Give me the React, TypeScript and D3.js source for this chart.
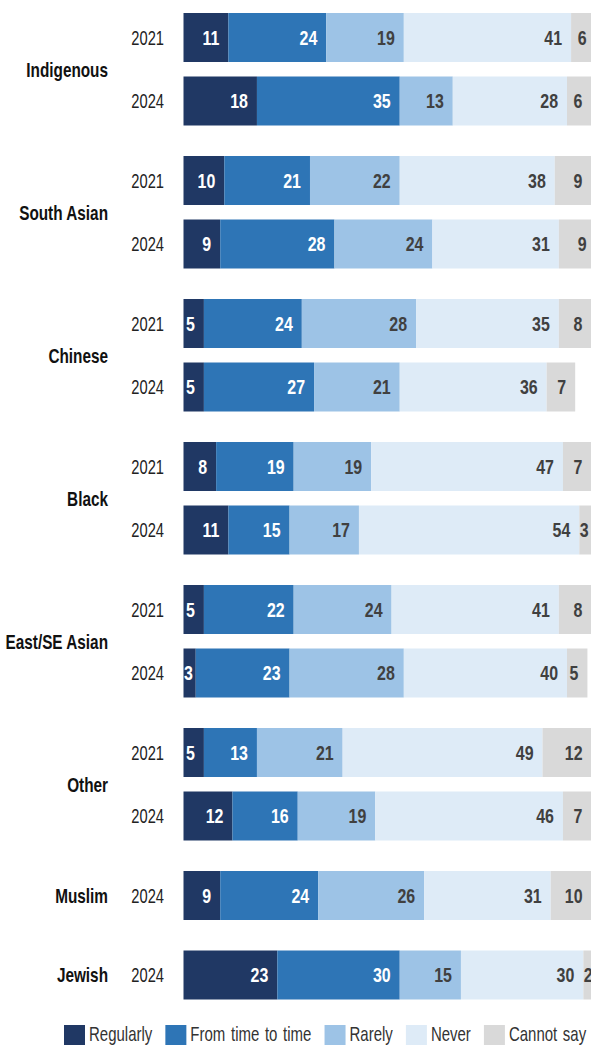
import React, { useMemo } from "react";
import * as d3 from "d3";

const groups = ["Indigenous", "South Asian", "Chinese", "Black", "East/SE Asian", "Other", "Muslim", "Jewish"];
const rowGroup = [0, 0, 1, 1, 2, 2, 3, 3, 4, 4, 5, 5, 6, 7];
const rowYear = ["2021", "2024", "2021", "2024", "2021", "2024", "2021", "2024", "2021", "2024", "2021", "2024", "2024", "2024"];
const regularly = [11, 18, 10, 9, 5, 5, 8, 11, 5, 3, 5, 12, 9, 23];
const fromTime = [24, 35, 21, 28, 24, 27, 19, 15, 22, 23, 13, 16, 24, 30];
const rarely = [19, 13, 22, 24, 28, 21, 19, 17, 24, 28, 21, 19, 26, 15];
const never = [41, 28, 38, 31, 35, 36, 47, 54, 41, 40, 49, 46, 31, 30];
const cannotSay = [6, 6, 9, 9, 8, 7, 7, 3, 8, 5, 12, 7, 10, 2];
const seriesNames = ["Regularly", "From time to time", "Rarely", "Never", "Cannot say"];
const seriesColors = ["#203864", "#2e75b6", "#9dc3e6", "#deebf7", "#d9d9d9"];
const labelColors = ["#ffffff", "#ffffff", "#404040", "#404040", "#404040"];

const FONT = "'Liberation Sans', Arial, sans-serif";

function measure(text: string, font: string, wordSpacing = 0) {
  const c = document.createElement("canvas").getContext("2d");
  if (!c) return text.length * 8;
  c.font = font;
  const spaces = (text.match(/ /g) || []).length;
  return c.measureText(text).width + spaces * wordSpacing;
}

type TProps = {
  x: number;
  y: number;
  sx: number;
  anchor?: string;
  size: number;
  weight?: string;
  fill: string;
  wordSpacing?: number;
  children: React.ReactNode;
};

function NText({ x, y, sx, anchor = "start", size, weight = "normal", fill, wordSpacing = 0, children }: TProps) {
  return (
    <text
      transform={`translate(${x},${y}) scale(${sx},1)`}
      dy="0.35em"
      textAnchor={anchor}
      fontFamily={FONT}
      fontSize={size}
      fontWeight={weight}
      fill={fill}
      style={{ wordSpacing: `${wordSpacing}px` }}
    >
      {children}
    </text>
  );
}

export default function App() {
  const W = 591, H = 1045;
  const series = [regularly, fromTime, rarely, never, cannotSay];
  const x = d3.scaleLinear().domain([0, 100]).range([183.5, 591.5]);
  const rowStride = 63.5, groupGap = 16, top0 = 13, barH = 49;
  const rowTop = (i: number) => top0 + i * rowStride + rowGroup[i] * groupGap;

  const valSize = 21, valScale = 0.76;
  const valFont = `bold ${valSize}px ${FONT}`;

  const rows = rowYear.map((yr, i) => {
    let acc = 0;
    const segs = series.map((s, k) => {
      const v = s[i];
      const x0 = x(acc);
      acc += v;
      const x1 = x(acc);
      return { v, x0, x1, k };
    });
    return { i, yr, segs, y: rowTop(i) };
  });

  const groupLabels = groups.map((g, gi) => {
    const idx = rowGroup.map((r, i) => (r === gi ? i : -1)).filter((i) => i >= 0);
    const ys = idx.map((i) => rowTop(i) + barH / 2);
    return { g, y: d3.mean(ys) as number };
  });

  const legSize = 20, legScale = 0.75, legWS = 2;
  const legendFont = `${legSize}px ${FONT}`;
  const legend = useMemo(() => {
    let cx = 64;
    return seriesNames.map((n, k) => {
      const item = { n, k, sx: cx, tx: cx + 25 };
      cx = cx + 25 + measure(n, legendFont, legWS) * legScale + 13;
      return item;
    });
  }, []);

  return (
    <svg width={W} height={H} style={{ position: "absolute", left: 0, top: 0, display: "block" }}>
      {groupLabels.map((gl) => (
        <NText key={gl.g} x={108} y={gl.y} sx={0.73} anchor="end" size={21} weight="bold" fill="#111">
          {gl.g}
        </NText>
      ))}
      {rows.map((r) => (
        <g key={r.i}>
          <NText x={164} y={r.y + barH / 2} sx={0.7} anchor="end" size={21} fill="#222">
            {r.yr}
          </NText>
          {r.segs.map((s) => (
            <rect key={s.k} x={s.x0} y={r.y} width={Math.max(0, s.x1 - s.x0)} height={barH} fill={seriesColors[s.k]} />
          ))}
          {r.segs.map((s) => {
            const tw = measure(String(s.v), valFont) * valScale;
            const xr = Math.max(s.x1 - 9, s.x0 + tw + 0.5);
            return (
              <NText key={"t" + s.k} x={xr} y={r.y + barH / 2} sx={valScale} anchor="end" size={valSize} weight="bold" fill={labelColors[s.k]}>
                {s.v}
              </NText>
            );
          })}
        </g>
      ))}
      {legend.map((l) => (
        <g key={l.n}>
          <rect x={l.sx} y={1025} width={21} height={20} fill={seriesColors[l.k]} />
          <NText x={l.tx} y={1034} sx={legScale} size={legSize} fill="#333" wordSpacing={legWS}>
            {l.n}
          </NText>
        </g>
      ))}
    </svg>
  );
}
